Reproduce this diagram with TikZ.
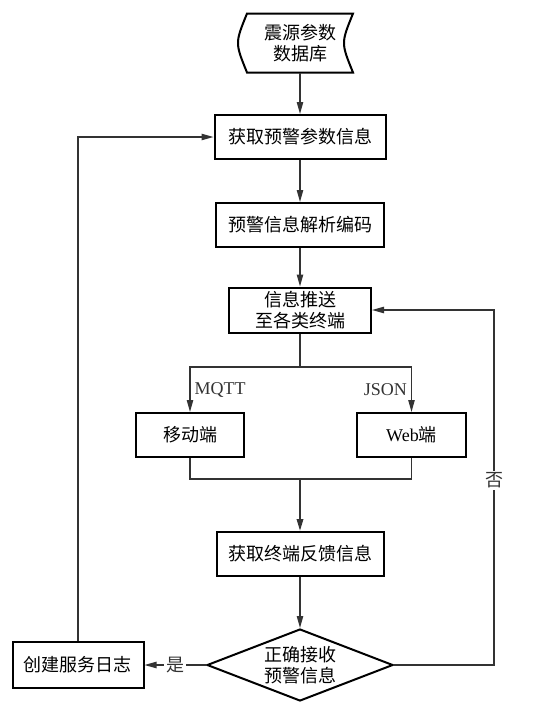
\documentclass[tikz,border=0pt]{standalone}
\usepackage{fontspec}
\setmainfont{Liberation Serif}
\newfontfamily\cjk{Noto Sans CJK SC}
\newfontfamily\latin{Liberation Serif}
\usetikzlibrary{arrows.meta,shapes.geometric}

\begin{document}
\begin{tikzpicture}[x=0.5pt, y=-0.5pt, >={Triangle[length=6pt,width=3.2pt]},
    box/.style={draw, line width=1pt, inner sep=0pt, minimum height=22pt, align=center,
        font=\cjk\fontsize{9}{10.5}\selectfont},
    link/.style={black!80, line width=0.6pt},
    lbl/.style={fill=white, inner sep=1pt, font=\cjk\fontsize{9}{10.5}\selectfont},
    tag/.style={inner sep=2pt, font=\latin\fontsize{9}{10.5}\selectfont}]
    \useasboundingbox (0,0) rectangle (544,723);

    % stored data
    \node[box, draw=none, minimum width=52pt, minimum height=28.5pt] (db) at (300,43) {震源参数\\数据库};
    \draw[line width=1pt] (db.north west) -- (db.north east)
        .. controls ([xshift=-6pt]db.east) .. (db.south east) -- (db.south west)
        .. controls ([xshift=-6pt]db.west) .. cycle;

    \node[box, minimum width=85.5pt] (fetch) at (300,137) {获取预警参数信息};
    \node[box, minimum width=84pt] (decode) at (300,225) {预警信息解析编码};
    \node[box, minimum width=71pt, minimum height=22.5pt] (push) at (300,310) {信息推送\\至各类终端};
    \node[box, minimum width=54pt] (mobile) at (190,435) {移动端};
    \node[box, minimum width=54.5pt] (web) at (411.5,435) {{\latin Web}端};
    \node[box, minimum width=83.5pt] (feedback) at (300,554) {获取终端反馈信息};
    \node[box, diamond, aspect=2.6, minimum width=93pt, minimum height=36pt] (check) at (300,665) {正确接收\\预警信息};
    \node[box, minimum width=65.5pt, minimum height=23pt] (log) at (78,665) {创建服务日志};

    \coordinate (split) at (300,367);
    \coordinate (merge) at (300,479);
    \coordinate (noturn) at (494,0);

    % main flow
    \draw[link, ->] (db.south) -- (fetch.north);
    \draw[link, ->] (fetch) -- (decode);
    \draw[link, ->] (decode) -- (push);
    \draw[link] (push.south) -- (split);
    \draw[link, ->] (split) -| node[pos=0.75, tag, right] {MQTT} (mobile.north);
    \draw[link, ->] (split) -| node[pos=0.75, tag, left] {JSON} (web.north);
    \draw[link] (mobile.south) |- (merge) -| (web.south);
    \draw[link, line width=1pt, ->] (merge) -- (feedback.north);
    \draw[link, ->] (feedback) -- (check);

    % branches
    \draw[link, ->] (check.west) -- node[lbl] {是} (log.east);
    \draw[link, ->] (check.east) -| node[pos=0.76, lbl] {否} (noturn |- push.east) -- (push.east);
    \draw[link, ->] (log.north) |- (fetch.west);
\end{tikzpicture}
\end{document}
